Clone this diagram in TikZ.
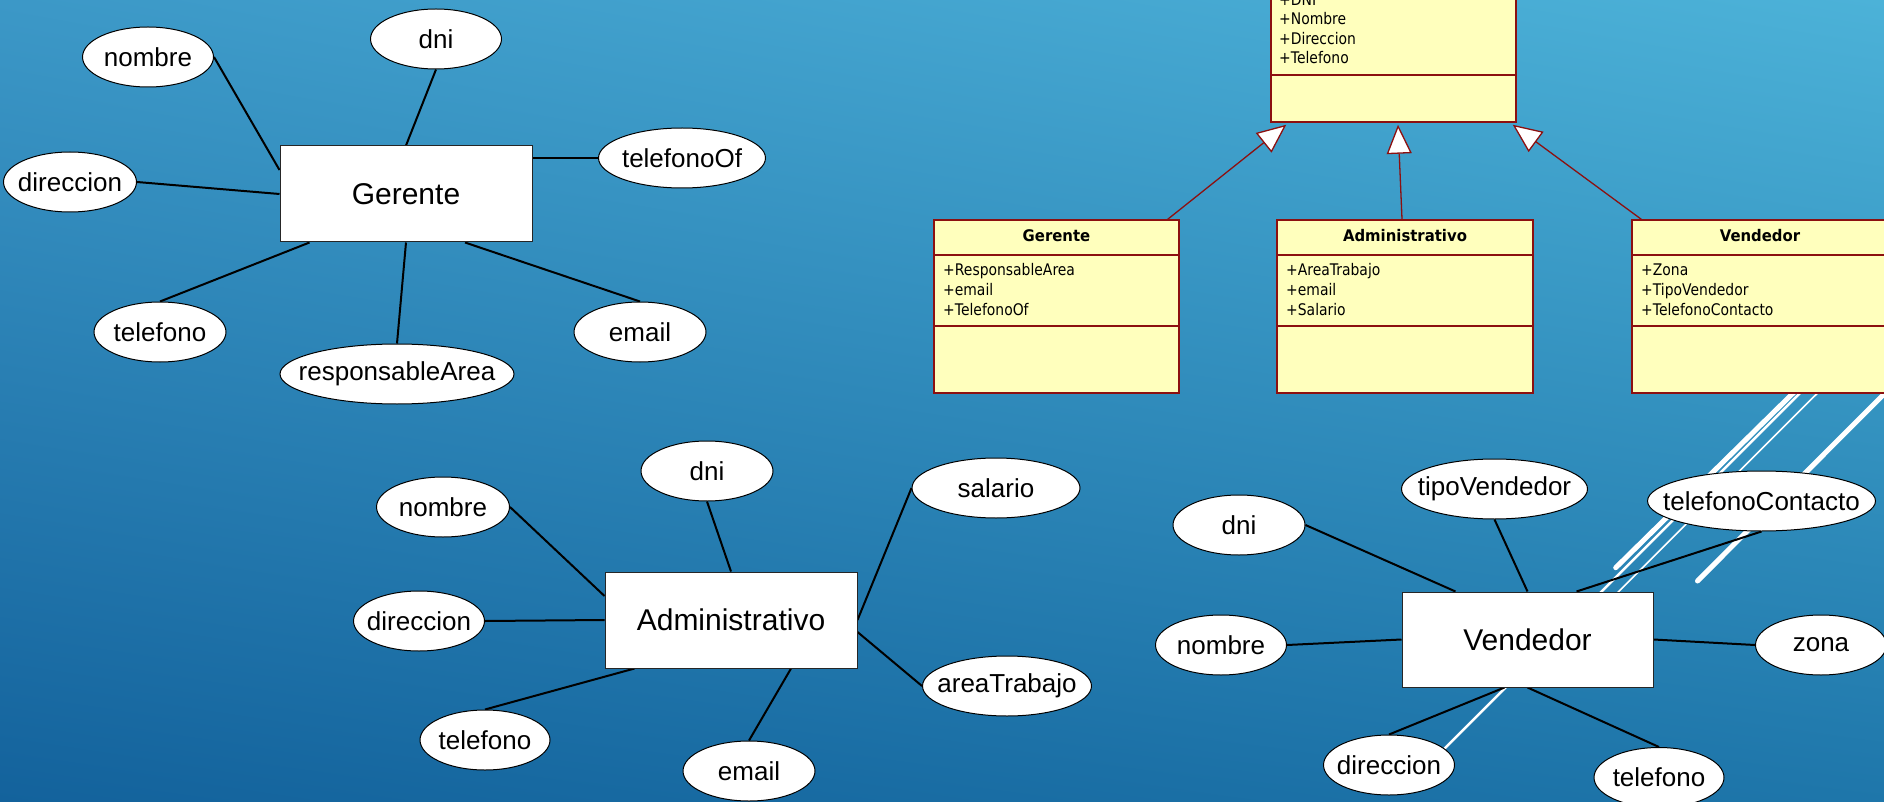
\documentclass[tikz,border=0pt]{standalone}
\usepackage{fontspec}
\setmainfont{Liberation Sans}
\newfontfamily\umlfont[FakeStretch=0.87]{DejaVu Sans}
\newfontfamily\umlbfont[FakeStretch=0.93]{DejaVu Sans}
\usetikzlibrary{shapes.geometric,arrows.meta,shadings}
\pgfdeclarelayer{bgzero}
\pgfdeclarelayer{bgone}
\pgfsetlayers{bgzero,bgone,main}
\newcommand{\attx}[1]{\makebox[0pt][c]{#1}}
\definecolor{umlfill}{RGB}{255,255,189}
\definecolor{umlred}{RGB}{140,16,16}
\definecolor{bgUL}{RGB}{60,152,199}
\definecolor{bgUR}{RGB}{76,178,216}
\definecolor{bgLL}{RGB}{19,98,156}
\definecolor{bgLR}{RGB}{30,118,170}
\tikzset{
  ent/.style={draw=black!85, fill=white, line width=1pt, inner sep=0pt,
    minimum width=252pt, minimum height=96pt, font=\fontsize{30}{34}\selectfont},
  att/.style={ellipse, draw=black, fill=white, line width=1pt, inner sep=0pt,
    minimum height=60pt, font=\fontsize{26}{30}\selectfont},
  con/.style={line width=2pt, black},
  umlbox/.style={draw=umlred, fill=umlfill, line width=1.5pt, inner sep=0pt},
  umlsep/.style={draw=umlred, line width=1.5pt},
  umltxt/.style={anchor=base west, inner sep=0pt, text=black,
    font=\umlfont\fontsize{16}{19}\selectfont},
  umlhead/.style={anchor=base, inner sep=0pt, text=black,
    font=\umlbfont\bfseries\fontsize{16}{19}\selectfont},
  inh/.style={draw=umlred, line width=1.3pt,
    -{Triangle[length=29pt, width=25pt, fill=white]}},
  deco/.style={draw=white, line cap=round},
}
\begin{document}
\begin{tikzpicture}[x=1pt, y=-1pt]
\useasboundingbox (0,0) rectangle (1884,802);
\clip (0,0) rectangle (1884,802);
\begin{pgfonlayer}{bgzero}
\shade[upper left=bgUL, upper right=bgUR, lower left=bgLL, lower right=bgLR]
  (0,0) rectangle (1884,802);
% decorative white lines
\draw[deco, line width=5pt] (1615.7,567.7) -- (1970,219);
\draw[deco, line width=2.5pt] (1440,753) -- (1990,203);
\draw[deco, line width=1.6pt] (1560,650) -- (1990,221);
\draw[deco, line width=5pt] (1697.5,581) -- (1900,378);
\end{pgfonlayer}

% ---------- UML ----------
\node[umlbox, minimum width=245pt, minimum height=202pt] (umlP) at (1393.5,21) {};
\draw[umlsep] (umlP.west |- 0,75) -- (umlP.east |- 0,75);
\node[umltxt] (pA1) at (1279,5.5) {+DNI};
\node[umltxt] (pA2) at (1279,25) {+Nombre};
\node[umltxt] (pA3) at (1279,44.5) {+Direccion};
\node[umltxt] (pA4) at (1279,64) {+Telefono};

\node[umlbox, minimum width=245pt, minimum height=173pt] (umlG) at (1056.5,306.5) {};
\draw[umlsep] (umlG.west |- 0,255) -- (umlG.east |- 0,255);
\draw[umlsep] (umlG.west |- 0,326) -- (umlG.east |- 0,326);
\node[umlhead] (gH) at (1056.5,242) {Gerente};
\node[umltxt] (gA1) at (943,276) {+ResponsableArea};
\node[umltxt] (gA2) at (943,295.5) {+email};
\node[umltxt] (gA3) at (943,315) {+TelefonoOf};

\node[umlbox, minimum width=256pt, minimum height=173pt] (umlA) at (1405,306.5) {};
\draw[umlsep] (umlA.west |- 0,255) -- (umlA.east |- 0,255);
\draw[umlsep] (umlA.west |- 0,326) -- (umlA.east |- 0,326);
\node[umlhead] (aH) at (1405,242) {Administrativo};
\node[umltxt] (aA1) at (1286,276) {+AreaTrabajo};
\node[umltxt] (aA2) at (1286,295.5) {+email};
\node[umltxt] (aA3) at (1286,315) {+Salario};

\node[umlbox, minimum width=256pt, minimum height=173pt] (umlV) at (1760,306.5) {};
\draw[umlsep] (umlV.west |- 0,255) -- (umlV.east |- 0,255);
\draw[umlsep] (umlV.west |- 0,326) -- (umlV.east |- 0,326);
\node[umlhead] (vH) at (1760,242) {Vendedor};
\node[umltxt] (vA1) at (1641,276) {+Zona};
\node[umltxt] (vA2) at (1641,295.5) {+TipoVendedor};
\node[umltxt] (vA3) at (1641,315) {+TelefonoContacto};

\draw[inh] ([xshift=-12pt]umlG.north east) -- ([xshift=16pt,yshift=-2pt]umlP.south west);
\draw[inh] ([xshift=-3pt]umlA.north) -- ([xshift=4.5pt,yshift=-2pt]umlP.south);
\draw[inh] ([xshift=10pt]umlV.north west) -- ([xshift=-4pt,yshift=-2pt]umlP.south east);

% ---------- ER: Gerente ----------
\node[ent] (ger) at (406,194) {Gerente};
\node[att, minimum width=131pt] (gNom) at (148,57) {\attx{nombre}};
\node[att, minimum width=131pt] (gDni) at (436,39) {\attx{dni}};
\node[att, minimum width=167pt] (gTelOf) at (682,158) {\attx{telefonoOf}};
\node[att, minimum width=133pt] (gDir) at (70,182) {\attx{direccion}};
\node[att, minimum width=132pt] (gTel) at (160,332) {\attx{telefono}};
\node[att, minimum width=234pt] (gResp) at (397,374) {\attx{responsableArea}};
\node[att, minimum width=132pt] (gEmail) at (640,332) {\attx{email}};
\begin{pgfonlayer}{bgone}
\draw[con] (gNom.east) -- ([yshift=24pt]ger.west);
\draw[con] (gDni.south) -- (ger.north);
\draw[con] (gTelOf.west) -- ([yshift=36pt]ger.east);
\draw[con] (gDir.east) -- (ger.west);
\draw[con] (gTel.north) -- ([xshift=30pt]ger.south west);
\draw[con] (gResp.north) -- (ger.south);
\draw[con] (gEmail.north) -- ([xshift=59pt]ger.south);
\end{pgfonlayer}

% ---------- ER: Administrativo ----------
\node[ent] (adm) at (731,620) {Administrativo};
\node[att, minimum width=132pt] (aDni) at (707,471) {\attx{dni}};
\node[att, minimum width=133pt] (aNom) at (443,507) {\attx{nombre}};
\node[att, minimum width=168pt] (aSal) at (996,488) {\attx{salario}};
\node[att, minimum width=131pt] (aDir) at (419,621) {\attx{direccion}};
\node[att, minimum width=169pt] (aArea) at (1007,686) {\attx{areaTrabajo}};
\node[att, minimum width=130pt] (aTel) at (485,740) {\attx{telefono}};
\node[att, minimum width=132pt] (aEmail) at (749,771) {\attx{email}};
\begin{pgfonlayer}{bgone}
\draw[con] (aDni.south) -- (adm.north);
\draw[con] (aNom.east) -- ([yshift=24pt]adm.west);
\draw[con] (aSal.west) -- (adm.east);
\draw[con] (aDir.east) -- (adm.west);
\draw[con] (aArea.west) -- ([yshift=-12pt]adm.east);
\draw[con] (aTel.north) -- ([xshift=30pt]adm.south west);
\draw[con] (aEmail.north) -- ([xshift=60pt]adm.south);
\end{pgfonlayer}

% ---------- ER: Vendedor ----------
\node[ent, minimum width=251pt, minimum height=95pt] (ven) at (1527.5,639.5) {Vendedor};
\node[att, minimum width=132pt] (vDni) at (1239,525) {\attx{dni}};
\node[att, minimum width=186pt] (vTipo) at (1494.5,489) {\attx{tipoVendedor}};
\node[att, minimum width=228pt] (vTelC) at (1761.5,501) {\attx{telefonoContacto}};
\node[att, minimum width=131pt] (vNom) at (1221,645) {\attx{nombre}};
\node[att, minimum width=131pt] (vZona) at (1821,645) {\attx{zona}};
\node[att, minimum width=131pt] (vDir) at (1389,765) {\attx{direccion}};
\node[att, minimum width=130pt] (vTel) at (1659,777.5) {\attx{telefono}};
\begin{pgfonlayer}{bgone}
\draw[con] (vDni.east) -- ([xshift=-72pt]ven.north);
\draw[con] (vTipo.south) -- (ven.north);
\draw[con] (vTelC.south) -- ([xshift=49pt]ven.north);
\draw[con] (vNom.east) -- (ven.west);
\draw[con] (vZona.west) -- (ven.east);
\draw[con] (vDir.north) -- ([xshift=-23pt]ven.south);
\draw[con] (vTel.north) -- (ven.south);
\end{pgfonlayer}
\end{tikzpicture}
\end{document}
